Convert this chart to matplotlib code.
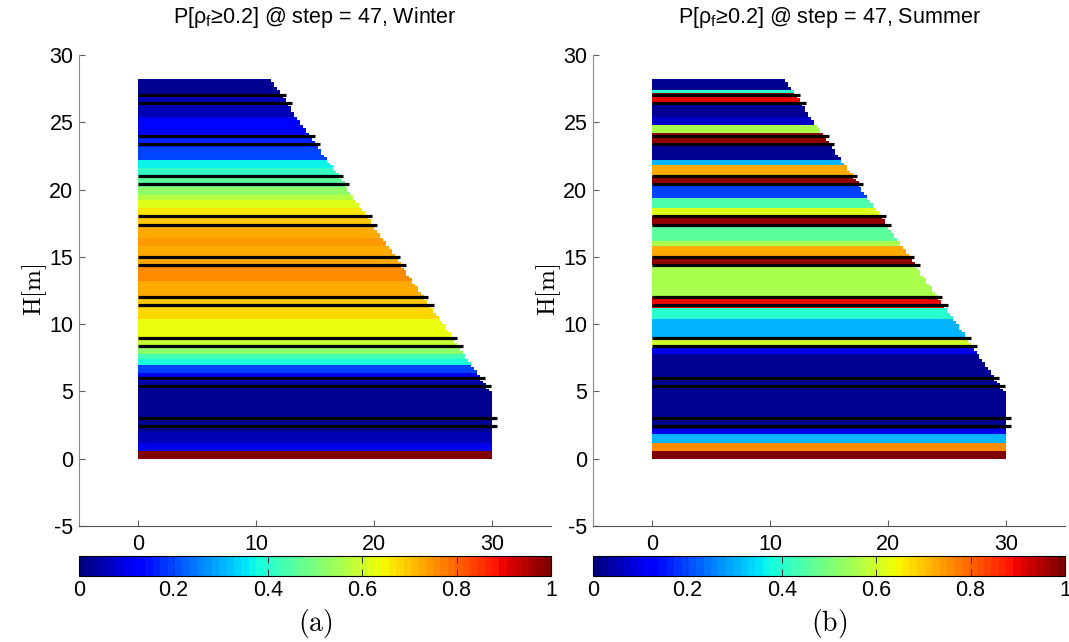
"""
Probability of rho_f >= 0.2 over the dam cross-section, winter vs summer.
Writes out.png.
"""
import numpy as np
import matplotlib

matplotlib.use('Agg')
import matplotlib.pyplot as plt

# --- dam geometry (m) ---
crest_height = 28.2
crest_width = 11.2
toe_height = 4.8
base_width = 30.0

# horizontal black lines (pairs of layers)
line_heights = [2.4, 3.0, 5.4, 6.0, 8.4, 9.0, 11.4, 12.0, 14.4, 15.0,
                17.4, 18.0, 20.4, 21.0, 23.4, 24.0, 26.4, 27.0]

# --- probability bands, listed bottom-up: band bottom (m) and value ---
winter_bottoms = [0.0, 0.6, 1.3, 2.0, 5.3, 5.9, 6.5, 7.0, 7.4, 7.8, 8.3, 9.1,
                  10.4, 11.3, 12.0, 13.2, 14.4, 15.0, 15.8, 16.5, 17.4, 18.0,
                  18.6, 19.3, 19.7, 20.3, 21.0, 21.6, 22.3, 23.3, 24.0, 24.8,
                  25.5, 27.0]
winter_values = [1.00, 0.10, 0.05, 0.02, 0.04, 0.10, 0.20, 0.38, 0.43, 0.52,
                 0.58, 0.63, 0.68, 0.70, 0.72, 0.75, 0.73, 0.72, 0.74, 0.72,
                 0.70, 0.67, 0.62, 0.57, 0.52, 0.46, 0.42, 0.37, 0.20, 0.16,
                 0.14, 0.11, 0.05, 0.02]

summer_bottoms = [0.0, 0.6, 1.3, 1.8, 2.3, 7.8, 8.3, 9.0, 10.4, 11.3, 12.0,
                  14.4, 15.1, 15.9, 16.3, 17.4, 18.0, 18.6, 19.4, 20.4, 21.0,
                  21.8, 22.3, 23.4, 24.2, 24.9, 25.4, 26.4, 27.0, 27.2, 27.4]
summer_values = [1.00, 0.75, 0.30, 0.10, 0.02, 0.10, 0.60, 0.30, 0.40, 0.90,
                 0.55, 0.97, 0.73, 0.55, 0.46, 0.98, 0.62, 0.45, 0.20, 0.98,
                 0.73, 0.30, 0.02, 0.98, 0.55, 0.07, 0.02, 0.90, 0.98, 0.40,
                 0.02]

panels = [('Winter', '(a)', winter_bottoms, winter_values),
          ('Summer', '(b)', summer_bottoms, summer_values)]

cbar_ticks = [0, 0.2, 0.4, 0.6, 0.8, 1]
cbar_ticklabels = ['0', '0.2', '0.4', '0.6', '0.8', '1']

plt.rcParams['font.family'] = ['Liberation Sans', 'DejaVu Sans']


def face_x(y):
    """x of the downstream face at height y."""
    if y <= toe_height:
        return base_width
    return base_width - (y - toe_height) * (base_width - crest_width) / (crest_height - toe_height)


def band_field(bottoms, values, dx=0.25, dy=0.2):
    xe = np.arange(0, base_width + dx / 2, dx)
    ye = np.arange(0, crest_height + dy / 2, dy)
    xc = 0.5 * (xe[:-1] + xe[1:])
    yc = 0.5 * (ye[:-1] + ye[1:])
    idx = np.searchsorted(bottoms, yc, side='right') - 1
    row_vals = np.asarray(values)[idx]
    Z = np.repeat(row_vals[:, None], len(xc), axis=1)
    edge = np.array([face_x(y) for y in yc])
    mask = xc[None, :] > edge[:, None]
    return xe, ye, np.ma.masked_array(Z, mask)


cmap = plt.get_cmap('jet', 64)

fig = plt.figure(figsize=(10.69, 6.42), dpi=100)
W, H = 1069.0, 642.0
ax_lefts = [79, 593]
ax_w, ax_top, ax_bot = 472, 55, 526
cb_top, cb_bot = 556, 576

for (season, tag, bottoms, values), left in zip(panels, ax_lefts):
    ax = fig.add_axes([left / W, 1 - ax_bot / H, ax_w / W, (ax_bot - ax_top) / H])
    xe, ye, Z = band_field(bottoms, values)
    mesh = ax.pcolormesh(xe, ye, Z, cmap=cmap, vmin=0, vmax=1, shading='flat')
    for h in line_heights:
        ax.hlines(h, 0, face_x(h) + 0.4, color='black', lw=2.3)

    ax.set_xlim(-5, 35)
    ax.set_ylim(-5, 30)
    ax.set_xticks([0, 10, 20, 30])
    ax.set_yticks(np.arange(-5, 31, 5))
    ax.set_yticklabels([str(v) for v in range(-5, 31, 5)])
    for s in ('top', 'right'):
        ax.spines[s].set_visible(False)
    ax.spines['left'].set_color('#8a8a8a')
    ax.spines['bottom'].set_color('#505050')
    ax.tick_params(direction='in', length=4, width=0.8, colors='#606060',
                   labelcolor='black', labelsize=15.5)
    ax.tick_params(axis='x', pad=6)
    ax.tick_params(axis='y', pad=4)

    ax.text(0.5, 1 + 37 / 471.0,
            'P[\u03c1$_{\\mathregular{f}}$\u22650.2] @ step = 47, ' + season,
            transform=ax.transAxes, ha='center', va='center', fontsize=15.5)
    fig.text((left - 44) / W, 1 - 290 / H, r'$\mathrm{H[m]}$', rotation=90,
             ha='center', va='center', fontsize=18, math_fontfamily='cm')

    cax = fig.add_axes([left / W, 1 - cb_bot / H, ax_w / W, (cb_bot - cb_top) / H])
    cb = fig.colorbar(mesh, cax=cax, orientation='horizontal')
    cb.set_ticks(cbar_ticks)
    cb.set_ticklabels(cbar_ticklabels)
    cb.outline.set_linewidth(0.8)
    cax.tick_params(direction='in', length=5, width=0.7, top=True, bottom=True,
                    labelsize=15.5, pad=3, colors='#303030', labelcolor='black')
    fig.text((left + ax_w / 2) / W, 1 - 623 / H, '$\\mathrm{' + tag + '}$',
             ha='center', va='center', fontsize=20, math_fontfamily='cm')

fig.savefig('out.png', dpi=100)
